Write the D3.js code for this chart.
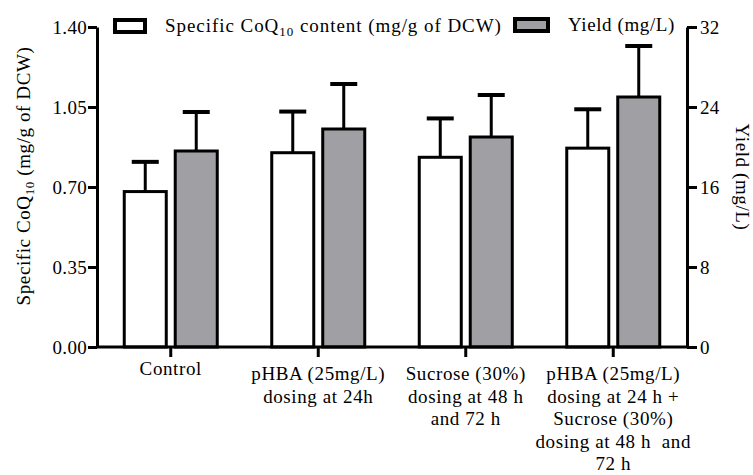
<!DOCTYPE html>
<html>
<head>
<meta charset="utf-8">
<script src="https://cdn.jsdelivr.net/npm/d3@7"></script>
<style>
  body { margin: 0; background: #fff; }
</style>
</head>
<body>
<div class="chart"></div>
<script>
// data
var categories = ["Control", "pHBA", "Sucrose", "Combo"];
var categoryLabels = [
    ["Control"],
    ["pHBA (25mg/L)", "dosing at 24h"],
    ["Sucrose (30%)", "dosing at 48 h", "and 72 h"],
    ["pHBA (25mg/L)", "dosing at 24 h +", "Sucrose (30%)", "dosing at 48 h  and", "72 h"]
];
var specificMean = [0.68, 0.85, 0.83, 0.87];
var specificSd = [0.13, 0.18, 0.17, 0.17];
var yieldMean = [19.6, 21.8, 21.0, 25.0];
var yieldSd = [3.9, 4.5, 4.2, 5.1];
var leftTicks = [0, 0.35, 0.70, 1.05, 1.40];
var rightTicks = [0, 8, 16, 24, 32];

var width = 753, height = 475;
var margin = { top: 27, right: 66, bottom: 128, left: 97 };
var plotBottom = height - margin.bottom;
var fontFamily = "Liberation Serif";

var svg = d3.select(".chart").append("svg")
    .attr("width", width)
    .attr("height", height)
    .attr("font-family", fontFamily)
    .attr("font-size", 19)
    .attr("letter-spacing", 0.6);

var x = d3.scaleBand()
    .domain(categories)
    .range([margin.left, width - margin.right]);

var xSub = d3.scaleBand()
    .domain(["specific", "yield"])
    .range([-46.5, 46.5])
    .paddingInner(0.176);

var yLeft = d3.scaleLinear().domain([0, 1.4]).range([plotBottom, margin.top]);
var yRight = d3.scaleLinear().domain([0, 32]).range([plotBottom, margin.top]);

var fills = { specific: "#ffffff", yield: "#a09fa4" };

var rows = categories.map(function (c, i) {
    return [
        { cat: c, key: "specific", v: specificMean[i], sd: specificSd[i], y: yLeft },
        { cat: c, key: "yield", v: yieldMean[i], sd: yieldSd[i], y: yRight }
    ];
});
var flat = [].concat.apply([], rows);

function cx(d) { return x(d.cat) + x.bandwidth() / 2 + xSub(d.key) + xSub.bandwidth() / 2; }

// error bars (upper only)
var err = svg.append("g").attr("stroke", "#000");
err.selectAll(".stem")
    .data(flat).enter().append("line")
    .attr("x1", cx).attr("x2", cx)
    .attr("y1", function (d) { return d.y(d.v); })
    .attr("y2", function (d) { return d.y(d.v + d.sd); })
    .attr("stroke-width", 3);
err.selectAll(".cap")
    .data(flat).enter().append("line")
    .attr("x1", function (d) { return cx(d) - 13.5; })
    .attr("x2", function (d) { return cx(d) + 13.5; })
    .attr("y1", function (d) { return d.y(d.v + d.sd); })
    .attr("y2", function (d) { return d.y(d.v + d.sd); })
    .attr("stroke-width", 4);

// bars
svg.append("g").selectAll("rect")
    .data(flat).enter().append("rect")
    .attr("x", function (d) { return cx(d) - xSub.bandwidth() / 2; })
    .attr("y", function (d) { return d.y(d.v); })
    .attr("width", xSub.bandwidth())
    .attr("height", function (d) { return plotBottom - d.y(d.v); })
    .attr("fill", function (d) { return fills[d.key]; })
    .attr("stroke", "#000")
    .attr("stroke-width", 3);

// axes
function styleAxis(g) {
    g.attr("font-family", null).attr("font-size", null);
    g.selectAll("path").attr("stroke-width", 3);
    g.selectAll("line").attr("stroke-width", 3);
    g.selectAll("text").attr("font-family", fontFamily).attr("letter-spacing", 0.3);
}

svg.append("g")
    .attr("transform", "translate(" + margin.left + ",0)")
    .call(d3.axisLeft(yLeft).tickValues(leftTicks).tickFormat(d3.format(".2f")).tickSize(9).tickSizeOuter(0).tickPadding(1))
    .call(styleAxis);

svg.append("g")
    .attr("transform", "translate(" + (width - margin.right) + ",0)")
    .call(d3.axisRight(yRight).tickValues(rightTicks).tickSize(10).tickSizeOuter(0).tickPadding(3))
    .call(styleAxis);

var xAxis = svg.append("g")
    .attr("transform", "translate(0," + plotBottom + ")")
    .call(d3.axisBottom(x).tickSize(10).tickSizeOuter(0).tickFormat(""))
    .call(styleAxis);
xAxis.select("path").attr("d", "M" + margin.left + ",0H" + (width - margin.right));

// category labels
svg.append("g").selectAll("text")
    .data(categories).enter().append("text")
    .attr("text-anchor", "middle")
    .attr("font-family", fontFamily)
    .attr("x", function (d) { return x(d) + x.bandwidth() / 2; })
    .attr("y", function (d, i) { return plotBottom + (categoryLabels[i].length > 1 ? 33 : 28); })
    .style("white-space", "pre")
    .each(function (d, i) {
        var t = d3.select(this);
        categoryLabels[i].forEach(function (line, j) {
            t.append("tspan")
                .attr("x", x(d) + x.bandwidth() / 2)
                .attr("dy", j === 0 ? 0 : 22.5)
                .text(line);
        });
    });

// axis titles
var lt = svg.append("text")
    .attr("font-family", fontFamily)
    .attr("transform", "translate(30," + 176 + ") rotate(-90)")
    .attr("text-anchor", "middle");
lt.append("tspan").text("Specific CoQ");
lt.append("tspan").attr("baseline-shift", "-30%").attr("font-size", 13).text("10");
lt.append("tspan").text(" (mg/g of DCW)");

svg.append("text")
    .attr("font-family", fontFamily)
    .attr("transform", "translate(736," + 177 + ") rotate(90)")
    .attr("text-anchor", "middle")
    .text("Yield (mg/L)");

// legend
var legend = svg.append("g").attr("font-family", fontFamily);
legend.append("rect")
    .attr("x", 115).attr("y", 20).attr("width", 30).attr("height", 12)
    .attr("fill", fills.specific).attr("stroke", "#000").attr("stroke-width", 4);
var l1 = legend.append("text").attr("x", 165).attr("y", 32).attr("letter-spacing", 0.95);
l1.append("tspan").text("Specific CoQ");
l1.append("tspan").attr("baseline-shift", "-30%").attr("font-size", 13).text("10");
l1.append("tspan").text(" content (mg/g of DCW)");

legend.append("rect")
    .attr("x", 515).attr("y", 19).attr("width", 33).attr("height", 12)
    .attr("fill", fills.yield).attr("stroke", "#000").attr("stroke-width", 4);
legend.append("text").attr("x", 568).attr("y", 31).text("Yield (mg/L)");
</script>
</body>
</html>
